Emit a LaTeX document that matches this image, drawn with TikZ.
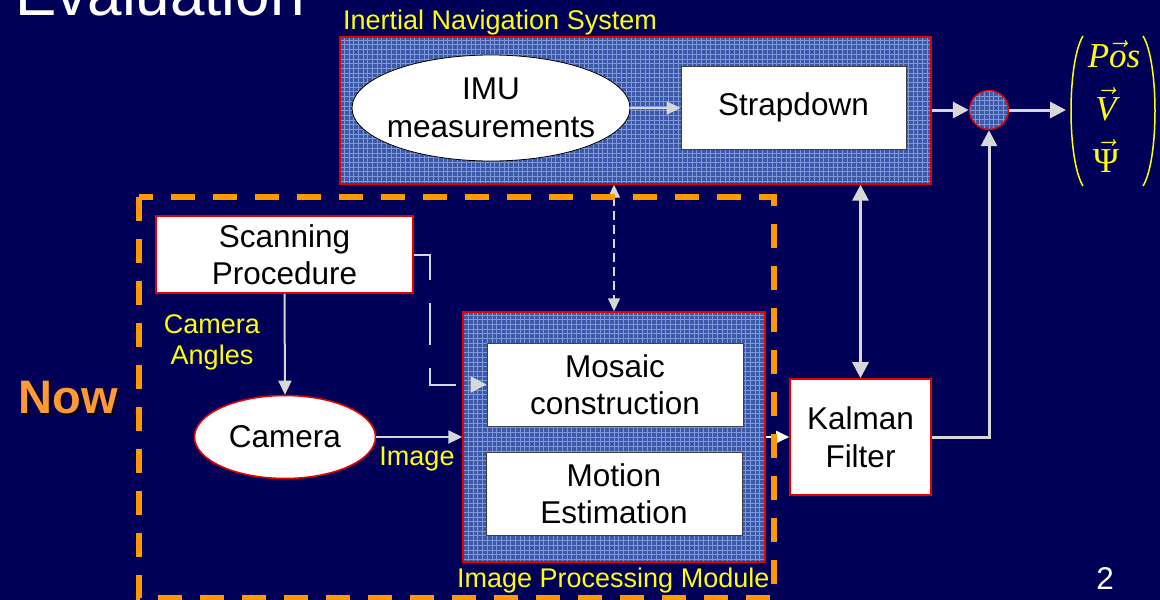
\RequirePackage{fix-cm}
\documentclass[tikz,border=0pt]{standalone}
\usepackage{fontspec}
\setmainfont{Liberation Sans}
\newfontfamily\RefSerif{Liberation Serif}
\usetikzlibrary{shapes.geometric,arrows.meta,calc}
\definecolor{bg}{RGB}{0,0,88}
\definecolor{gridblue}{RGB}{62,88,168}
\definecolor{gridline}{RGB}{122,152,218}
\definecolor{boxred}{RGB}{230,0,0}
\definecolor{lgray}{RGB}{215,215,215}
\definecolor{yel}{RGB}{255,255,0}
\definecolor{frameorange}{RGB}{255,153,0}
\definecolor{noworange}{RGB}{255,153,51}
\newcommand\BoxFont{\fontsize{31.5}{37.5}\selectfont}
\newcommand\LabFont{\fontsize{27}{31}\selectfont}
\newcommand\TitleFont{\fontsize{62}{70}\selectfont}
\newcommand\NowFont{\fontsize{47}{50}\selectfont\bfseries}
\newcommand\VecFont{\fontsize{35}{38}\selectfont}
\begin{document}
\begin{tikzpicture}[x=1pt,y=-1pt,
  box/.style={rectangle, draw=boxred, line width=1.6pt, fill=white, inner sep=0pt, align=center, font=\BoxFont, text=black},
  wbox/.style={rectangle, draw=black!75, line width=1pt, fill=white, inner sep=0pt, align=center, font=\BoxFont, text=black},
  gridded/.style={fill=gridblue, draw=boxred, line width=1.4pt, inner sep=0pt,
    path picture={\draw[gridline, line width=0.5pt, step=4.7pt] (path picture bounding box.south west) grid (path picture bounding box.north east);}},
  lab/.style={text=yel, font=\LabFont, align=center, inner sep=0pt},
  conn/.style={draw=lgray, line width=3pt, -{Triangle[length=16pt,width=16pt]}},
  sconn/.style={draw=lgray, line width=2pt, -{Triangle[length=14pt,width=13pt]}},
  wconn/.style={draw=white, line width=2pt, -{Triangle[length=13pt,width=12pt]}},
  dconn/.style={draw=lgray, line width=2pt, dash pattern=on 42pt off 23pt, -{Triangle[length=16pt,width=16pt]}},
  dashdbl/.style={draw=lgray, line width=1.4pt, dash pattern=on 9pt off 5pt, {Triangle[length=13pt,width=12pt]}-{Triangle[length=13pt,width=12pt]}},
  dbl/.style={draw=lgray, line width=3pt, {Triangle[length=16pt,width=16pt]}-{Triangle[length=16pt,width=16pt]}},
  vecent/.style={text=yel, font=\VecFont, inner sep=0pt}
]
\fill[bg] (0,0) rectangle (1160,600);
\useasboundingbox (0,0) rectangle (1160,600);

% title
\node[anchor=base west, font=\TitleFont, text=white, inner sep=0pt] (title) at (15,15) {Evaluation};

% INS
\node[anchor=base west, lab] (inslab) at (343,29) {Inertial Navigation System};
\node[gridded, minimum width=591pt, minimum height=147pt] (ins) at (635.5,110.5) {};
\node[ellipse, draw=black, line width=0.8pt, fill=white, minimum width=278pt, minimum height=106pt, inner xsep=-12pt, inner ysep=0pt, align=center, font=\BoxFont] (imu) at (491,108) {IMU\\measurements};
\node[wbox, minimum width=225pt, minimum height=83pt] (strap) at (793.5,107.5) {Strapdown};

% summing circle
\node[circle, gridded, minimum size=39pt] (sum) at (989,110) {};

% output vector
\draw[yel, line width=1.5pt] (1083,36) .. controls (1067,62) and (1067,160) .. (1083,186);
\draw[yel, line width=1.5pt] (1143,36) .. controls (1159,62) and (1159,160) .. (1143,186);
\node[vecent] (vpos) at (1114,54) {{\RefSerif\itshape P}$\vec{\hbox{\RefSerif\itshape o}}${\RefSerif\itshape s}};
\node[vecent] (vvel) at (1106,104) {$\vec{\hbox{\RefSerif\itshape V}}$};
\node[vecent] (vpsi) at (1106,156) {$\vec{\hbox{\RefSerif Ψ}}$};
\coordinate (vecin) at (1066,110);

% Now
\node[text=black, font=\NowFont, inner sep=0pt] (nowshadow) at (70,400) {Now};
\node[text=noworange, font=\NowFont, inner sep=0pt] (now) at (68,398) {Now};

% scanning and camera
\node[box, minimum width=257pt, minimum height=77pt] (scan) at (284.5,254.5) {Scanning\\Procedure};
\node[lab] (angles) at (212,342) {Camera\\Angles};
\node[ellipse, draw=boxred, line width=1.6pt, fill=white, minimum width=181pt, minimum height=83pt, inner sep=0pt, font=\BoxFont] (cam) at (285,437) {Camera};
\node[lab] (imglab) at (417,459) {Image};

% image processing module
\node[gridded, minimum width=302pt, minimum height=250pt] (ipm) at (614,437) {};
\node[wbox, minimum width=256pt, minimum height=83pt] (mos) at (615,384.5) {Mosaic\\construction};
\node[wbox, minimum width=256pt, minimum height=83pt] (mot) at (614,493.5) {Motion\\Estimation};
\node[anchor=base west, lab] (ipmlab) at (457,587) {Image Processing Module};

% Kalman
\node[box, minimum width=141pt, minimum height=116pt] (kal) at (860.5,437) {Kalman\\Filter};

% page number
\node[text=white, font=\BoxFont, inner sep=0pt] (pg) at (1105,578) {2};

% connectors
\draw[sconn] (imu.east) -- (strap.west |- imu.east);
\draw[conn] (sum.west -| ins.east) -- (sum.west);
\draw[conn] (sum.east) -- (vecin);
\draw[conn] (kal.east) -| (sum.south);
\draw[sconn] (scan.south) -- (cam.north);
\draw[sconn] (cam.east) -- (ipm.west);
\draw[wconn] (ipm.east) -- (kal.west);
\coordinate (bend) at (430,384.5);
\draw[dconn] (scan.east) -| (bend) -- (mos.west);
\draw[dashdbl] (ipm.north |- ins.south) -- (ipm.north);
\draw[dbl] (kal.north |- ins.south) -- (kal.north);

% orange dashed frame
\draw[frameorange, line width=6pt, dash pattern=on 24pt off 18pt] (139,197) rectangle (774,598);
\end{tikzpicture}
\end{document}
